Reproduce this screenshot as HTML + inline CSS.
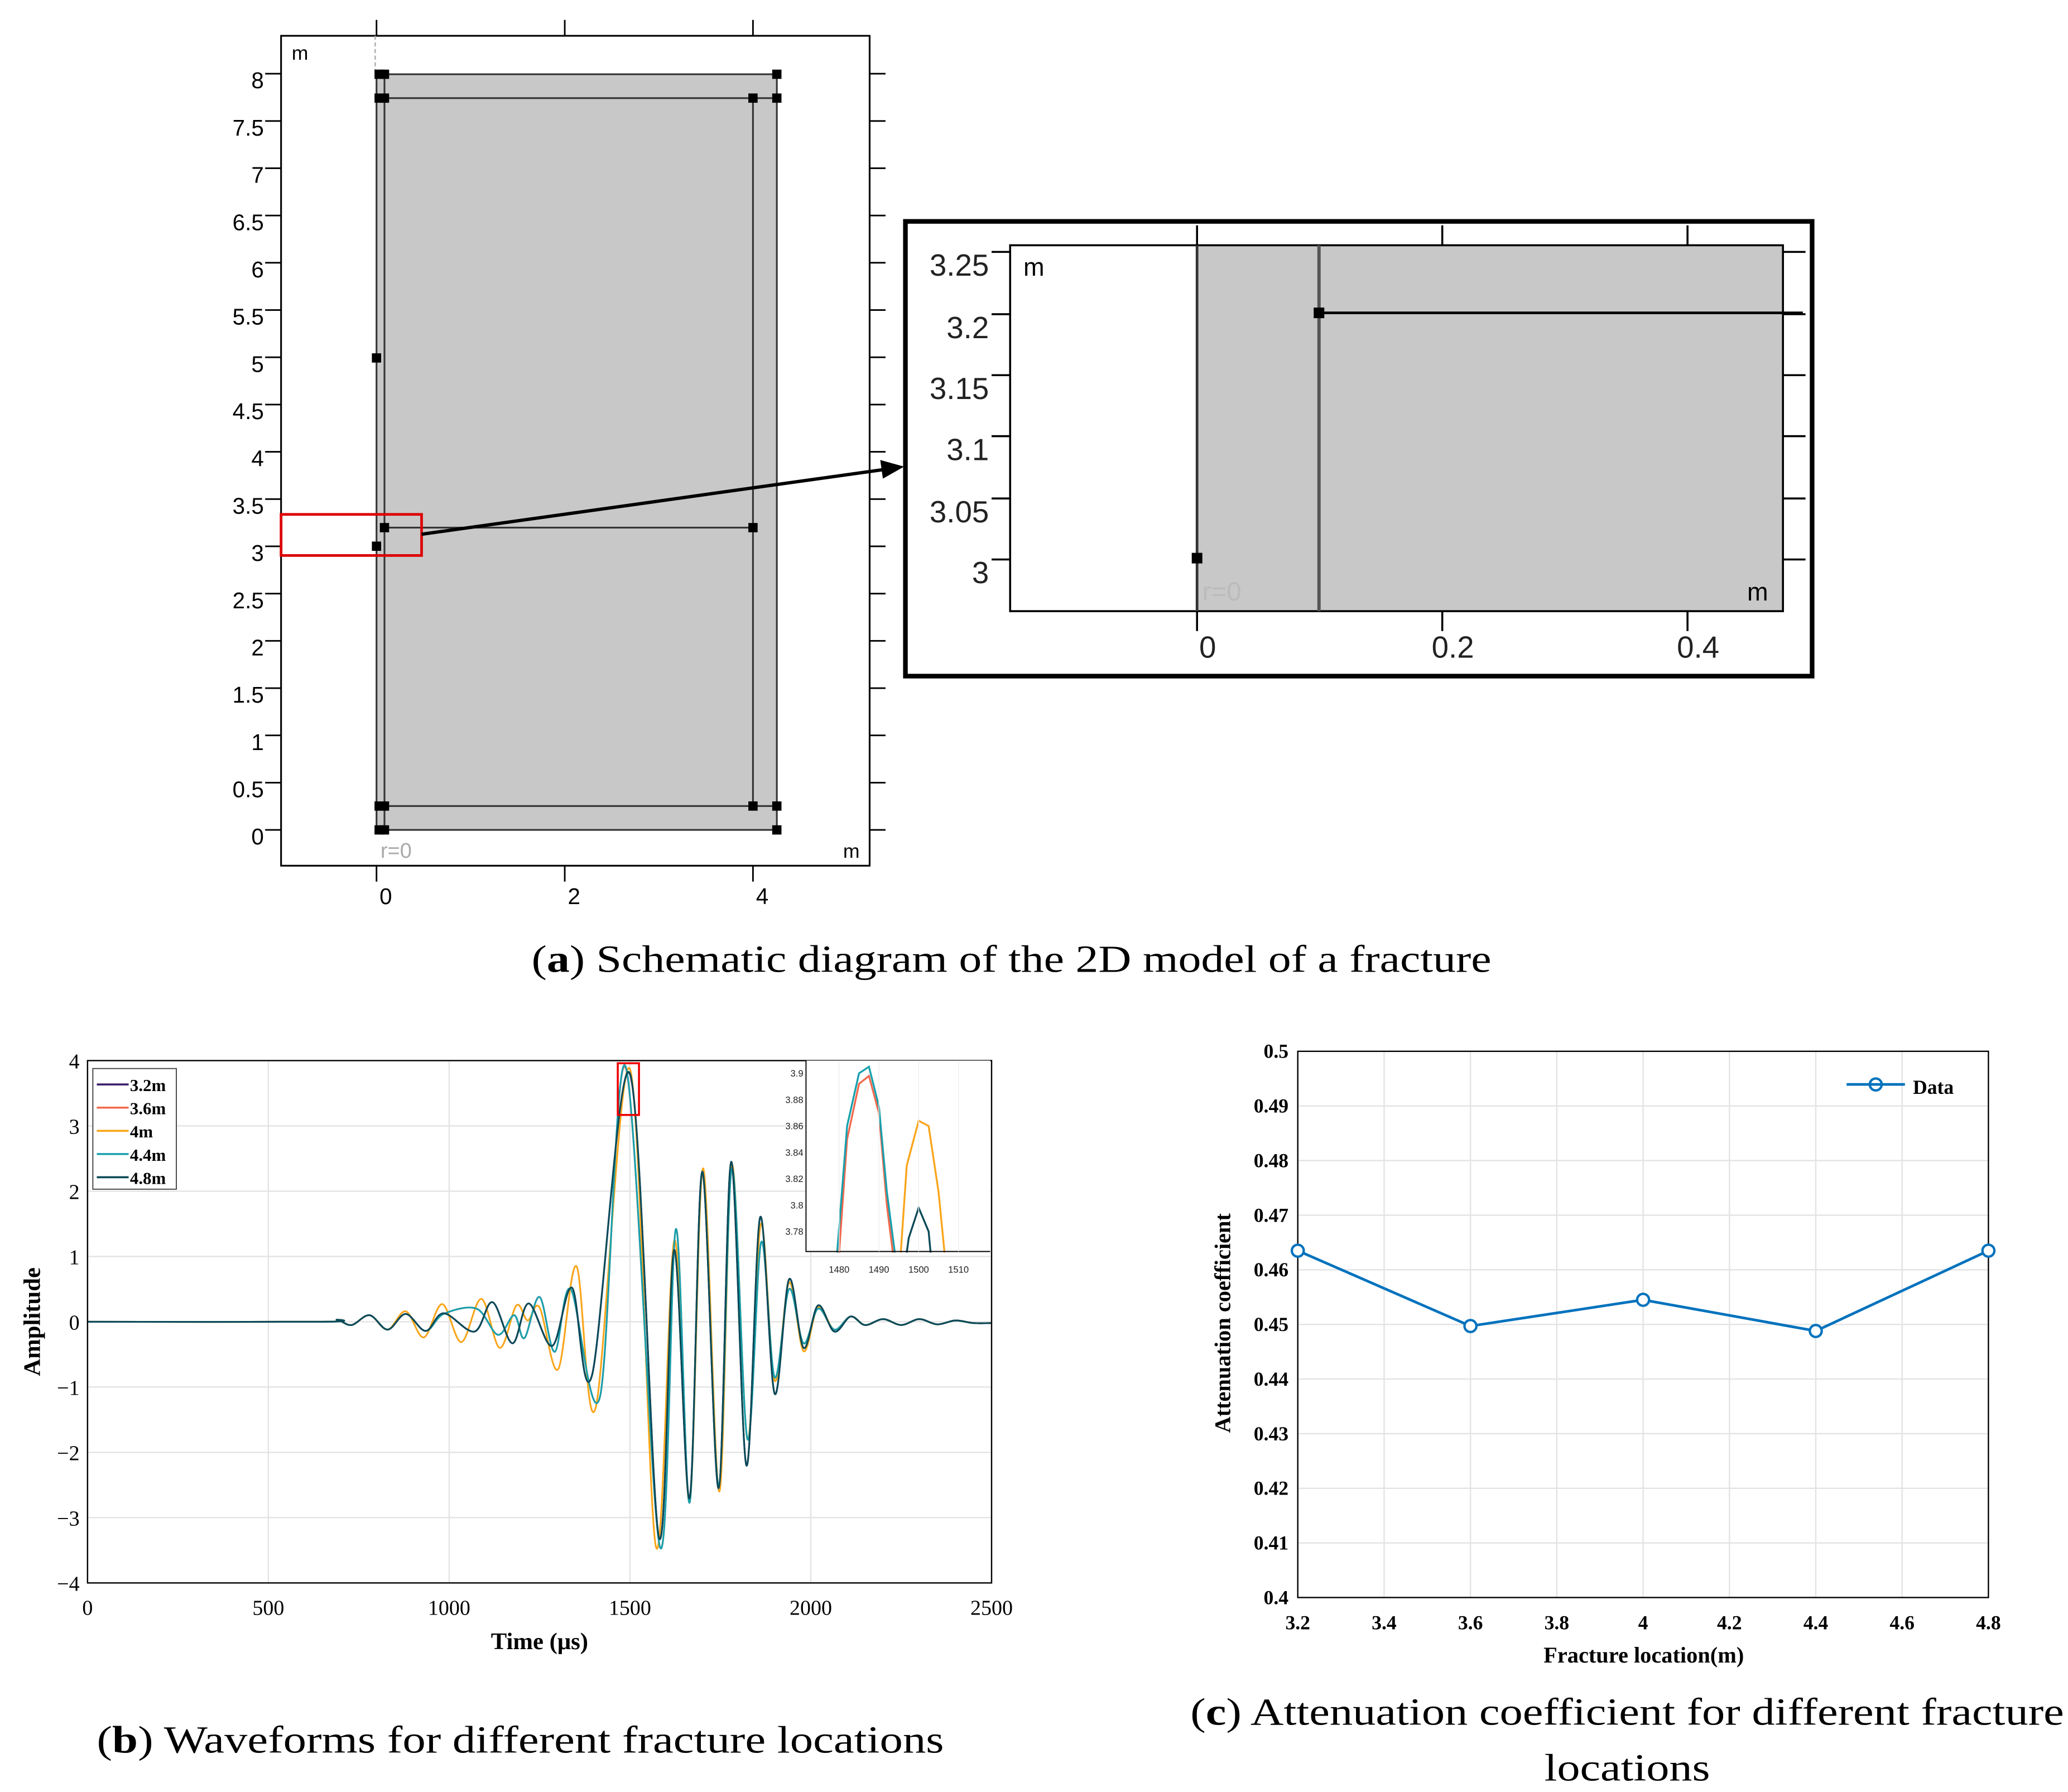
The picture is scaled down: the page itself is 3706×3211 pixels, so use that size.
<!DOCTYPE html>
<html><head><meta charset="utf-8"><style>
html,body{margin:0;padding:0;background:#fff}
svg{display:block}
text{font-family:"Liberation Serif",serif}
.sans, .sans text{font-family:"Liberation Sans",sans-serif}
</style></head><body>
<svg id="fig" xmlns="http://www.w3.org/2000/svg" width="3706" height="3211" viewBox="0 0 1560 1351.7">
<rect width="1560" height="1352" fill="#fff"/>

<!-- Panel a: main model -->
<g>
  <rect x="212" y="27" width="444" height="626" fill="#fff" stroke="#000" stroke-width="1.3"/>
  <rect x="284" y="56" width="302" height="570" fill="#c8c8c8" stroke="#333" stroke-width="1.3"/>
  <line x1="283" y1="27" x2="283" y2="56" stroke="#aaa" stroke-dasharray="3,2"/>
  <g stroke="#333" stroke-width="1.3" fill="none">
    <line x1="290" y1="56" x2="290" y2="626"/>
    <line x1="568" y1="74" x2="568" y2="608"/>
    <line x1="284" y1="74" x2="586" y2="74"/>
    <line x1="284" y1="608" x2="586" y2="608"/>
    <line x1="290" y1="398" x2="568" y2="398"/>
  </g>
  <g fill="#000" id="sq"></g>
  <g id="aticks" stroke="#000" stroke-width="1.2"></g>
  <g id="alabels" font-size="17" class="sans"></g>
  <text x="220" y="45" font-size="15" class="sans">m</text>
  <text x="636" y="647" font-size="15" class="sans">m</text>
  <text x="287" y="647" font-size="16" fill="#aaa" class="sans">r=0</text>
  <rect x="212" y="388" width="106" height="31" fill="none" stroke="#d00" stroke-width="2"/>
  <line x1="318" y1="403" x2="668" y2="354" stroke="#000" stroke-width="2.5"/>
  <polygon points="682,352 664,347 666,361" fill="#000"/>
</g>

<!-- Panel a: zoom inset -->
<g>
  <rect x="683" y="167" width="684" height="343" fill="#fff" stroke="#000" stroke-width="3.5"/>
  <rect x="903" y="185" width="442" height="276" fill="#c8c8c8"/>
  <rect x="762" y="185" width="583" height="276" fill="none" stroke="#000" stroke-width="1.5"/>
  <line x1="903" y1="185" x2="903" y2="461" stroke="#333" stroke-width="2"/>
  <line x1="995" y1="185" x2="995" y2="461" stroke="#555" stroke-width="2.5"/>
  <line x1="995" y1="236" x2="1360" y2="236" stroke="#000" stroke-width="2"/>
  <rect x="991" y="232" width="8" height="8" fill="#000"/>
  <rect x="899" y="417" width="8" height="8" fill="#000"/>
  <g id="ziticks" stroke="#000" stroke-width="1.5"></g>
  <g id="zilabels" font-size="23" class="sans" fill="#222"></g>
  <text x="772" y="208" font-size="19" class="sans">m</text>
  <text x="1318" y="453" font-size="19" class="sans">m</text>
  <text x="907" y="453" font-size="20" fill="#bbb" class="sans">r=0</text>
</g>
<text x="401" y="733" font-size="29" textLength="724" lengthAdjust="spacingAndGlyphs">(<tspan font-weight="bold">a</tspan>) Schematic diagram of the 2D model of a fracture</text>

<!-- Panel b -->
<g>
  <rect x="66" y="800" width="682" height="394" fill="#fff"/>
  <g id="bgrid" stroke="#e3e3e3" stroke-width="1"></g>
  <g id="bseries" fill="none" stroke-width="1.3"></g>
  <rect x="66" y="800" width="682" height="394" fill="none" stroke="#000" stroke-width="1"/>
  <g id="bticks" font-size="16"></g>
  <rect x="466" y="802" width="16" height="39" fill="none" stroke="#e00" stroke-width="1.5"/>
  <g id="blegend"></g>
  <g>
    <rect x="608" y="800" width="139" height="144" fill="#fff"/>
    <g id="iseries" fill="none" stroke-width="1.4"></g>
    <polyline points="608,800 608,944 747,944" fill="none" stroke="#000" stroke-width="0.8"/>
    <g id="iticks" font-size="7" class="sans" fill="#222"></g>
  </g>
  <text x="407" y="1244" font-size="18" font-weight="bold" text-anchor="middle">Time (μs)</text>
  <text transform="translate(30,997) rotate(-90)" font-size="18" font-weight="bold" text-anchor="middle">Amplitude</text>
</g>
<text x="73" y="1322" font-size="29" textLength="639" lengthAdjust="spacingAndGlyphs">(<tspan font-weight="bold">b</tspan>) Waveforms for different fracture locations</text>

<!-- Panel c -->
<g>
  <g id="cgrid" stroke="#e3e3e3" stroke-width="1"></g>
  <rect x="979" y="793" width="521" height="412" fill="none" stroke="#000" stroke-width="1"/>
  <g id="cticks" font-size="15" font-weight="bold"></g>
  <g id="cseries"></g>
  <g>
    <line x1="1393" y1="818" x2="1437" y2="818" stroke="#0072bd" stroke-width="2"/>
    <circle cx="1415" cy="818" r="4.5" fill="none" stroke="#0072bd" stroke-width="1.8"/>
    <text x="1443" y="825" font-size="15" font-weight="bold">Data</text>
  </g>
  <text x="1240" y="1254" font-size="17" font-weight="bold" text-anchor="middle">Fracture location(m)</text>
  <text transform="translate(928,998) rotate(-90)" font-size="17" font-weight="bold" text-anchor="middle">Attenuation coefficient</text>
</g>
<text x="898" y="1301" font-size="29" textLength="659" lengthAdjust="spacingAndGlyphs">(<tspan font-weight="bold">c</tspan>) Attenuation coefficient for different fracture</text>
<text x="1165" y="1343" font-size="29" textLength="125" lengthAdjust="spacingAndGlyphs">locations</text>
</svg>
<script>
// ---- Panel c data ----
const cCategories = [3.2, 3.6, 4.0, 4.4, 4.8];
const cValues = [0.4635, 0.4497, 0.4545, 0.4488, 0.4635];
const cXTicks = ["3.2","3.4","3.6","3.8","4","4.2","4.4","4.6","4.8"];
const cYTicks = ["0.4","0.41","0.42","0.43","0.44","0.45","0.46","0.47","0.48","0.49","0.5"];

// ---- Panel b data ----
const bSeriesNames = ["3.2m","3.6m","4m","4.4m","4.8m"];
const bXTicks = ["0","500","1000","1500","2000","2500"];
const bYTicks = ["4","3","2","1","0","\u22121","\u22122","\u22123","\u22124"];
const t48 = [0,650,690,730,780,830,880,935,985,1070,1120,1175,1220,1285,1340,1395,1500,1580,1622,1665,1700,1745,1780,1822,1860,1900,1940,1980,2020,2065,2110,2150,2200,2250,2300,2350,2400,2450,2500];
const v48 = [0,0,0.03,-0.05,0.1,-0.12,0.12,-0.14,0.13,-0.15,0.3,-0.33,0.28,-0.37,0.52,-0.82,3.8,-3.3,1.1,-2.7,2.3,-2.55,2.45,-2.2,1.6,-1.1,0.65,-0.4,0.25,-0.15,0.08,-0.05,0.04,-0.05,0.04,-0.04,0.02,-0.02,-0.02];
const t44 = [0,650,690,730,780,830,880,935,985,1076,1135,1180,1208,1250,1292,1336,1417,1488,1583,1627,1665,1700,1745,1782,1825,1863,1900,1940,1980,2020,2065,2110,2150,2200,2250,2300,2350,2400,2450,2500];
const v44 = [0,0,0.03,-0.05,0.1,-0.12,0.12,-0.14,0.12,0.2,-0.2,0.1,-0.25,0.38,-0.46,0.5,-1.15,3.91,-3.45,1.42,-2.77,2.3,-2.5,2.35,-1.8,1.22,-0.85,0.5,-0.33,0.2,-0.12,0.08,-0.05,0.04,-0.05,0.04,-0.04,0.02,-0.02,-0.02];
const t40 = [0,650,690,730,780,830,880,930,981,1034,1089,1140,1186,1217,1250,1301,1352,1405,1500,1572,1623,1665,1702,1747,1782,1825,1862,1900,1940,1980,2020,2065,2110,2150,2200,2250,2300,2350,2400,2450,2500];
const v40 = [0,0,0.03,-0.05,0.1,-0.12,0.16,-0.24,0.27,-0.31,0.35,-0.4,0.25,0.02,0.22,-0.73,0.85,-1.32,3.87,-3.45,1.25,-2.75,2.35,-2.6,2.4,-1.8,1.5,-0.9,0.6,-0.45,0.22,-0.12,0.08,-0.05,0.04,-0.05,0.04,-0.04,0.02,-0.02,-0.02];
const v36 = [0,0,0.03,-0.05,0.1,-0.12,0.12,-0.14,0.12,0.2,-0.2,0.1,-0.25,0.38,-0.46,0.5,-1.15,3.89,-3.45,1.42,-2.77,2.3,-2.5,2.35,-1.8,1.22,-0.85,0.5,-0.33,0.2,-0.12,0.08,-0.05,0.04,-0.05,0.04,-0.04,0.02,-0.02,-0.02];
const v32 = [0,0,0.03,-0.05,0.1,-0.12,0.12,-0.14,0.13,-0.15,0.3,-0.33,0.28,-0.37,0.52,-0.82,3.79,-3.3,1.1,-2.7,2.3,-2.55,2.45,-2.2,1.6,-1.1,0.65,-0.4,0.25,-0.15,0.08,-0.05,0.04,-0.05,0.04,-0.04,0.02,-0.02,-0.02];
// inset peak data
const iT44 = [1479.5,1482,1485,1487.5,1490,1492,1494];
const iV44 = [3.764,3.86,3.9,3.905,3.875,3.81,3.764];
const iT36 = [1480,1482,1485,1487.5,1490,1492,1493.5];
const iV36 = [3.764,3.85,3.892,3.898,3.87,3.8,3.764];
const iT40 = [1495.5,1497,1500,1502.5,1505,1506.5];
const iV40 = [3.764,3.83,3.864,3.86,3.81,3.764];
const iT48 = [1497,1497.5,1500,1502.5,1503];
const iV48 = [3.764,3.775,3.798,3.78,3.764];
const iXTicks = ["1480","1490","1500","1510"];
const iYTicks = ["3.78","3.8","3.82","3.84","3.86","3.88","3.9"];

const NS="http://www.w3.org/2000/svg";
function mk(tag, attrs, parent){const e=document.createElementNS(NS,tag);for(const k in attrs)e.setAttribute(k,attrs[k]);parent.appendChild(e);return e;}
function $(id){return document.getElementById(id);}

// ===== Panel a =====
const aY = v => 626 - v*71.3;
const aX = r => 284 + r*71;
const aYTicks = [0,0.5,1,1.5,2,2.5,3,3.5,4,4.5,5,5.5,6,6.5,7,7.5,8];
aYTicks.forEach(v=>{
  const y=aY(v);
  mk('line',{x1:200,y1:y,x2:212,y2:y},$('aticks'));
  mk('line',{x1:656,y1:y,x2:668,y2:y},$('aticks'));
  const t=mk('text',{x:199,y:y+11,'text-anchor':'end'},$('alabels')); t.textContent=String(v);
});
[0,2,4].forEach(r=>{
  const x=aX(r);
  mk('line',{x1:x,y1:15,x2:x,y2:27},$('aticks'));
  mk('line',{x1:x,y1:653,x2:x,y2:665},$('aticks'));
  const t=mk('text',{x:x+7,y:682,'text-anchor':'middle'},$('alabels')); t.textContent=String(r);
});
[[286,56],[290,56],[586,56],[286,74],[290,74],[568,74],[586,74],[290,398],[568,398],[286,608],[290,608],[568,608],[586,608],[286,626],[290,626],[586,626],[284,270],[284,412]].forEach(p=>{
  mk('rect',{x:p[0]-3.5,y:p[1]-3.5,width:7,height:7},$('sq'));
});
// zoom inset ticks
[[3.25,200],[3.2,247],[3.15,293],[3.1,339],[3.05,386],[3,432]].forEach(p=>{
  const t=mk('text',{x:746,y:p[1]+8,'text-anchor':'end'},$('zilabels')); t.textContent=String(p[0]);
  mk('line',{x1:748,y1:p[1]-10,x2:762,y2:p[1]-10},$('ziticks'));
  mk('line',{x1:1345,y1:p[1]-10,x2:1362,y2:p[1]-10},$('ziticks'));
});
[[903,"0"],[1088,"0.2"],[1273,"0.4"]].forEach(p=>{
  mk('line',{x1:p[0],y1:170,x2:p[0],y2:185},$('ziticks'));
  mk('line',{x1:p[0],y1:461,x2:p[0],y2:476},$('ziticks'));
  const t=mk('text',{x:p[0]+8,y:496,'text-anchor':'middle'},$('zilabels')); t.textContent=p[1];
});

// ===== Panel b =====
const bx = t => 66 + t*(682/2500);
const by = v => 997 - v*49.25;
bXTicks.forEach(s=>{
  const v=+s, x=bx(v);
  mk('line',{x1:x,y1:800,x2:x,y2:1194},$('bgrid'));
  const t=mk('text',{x:x,y:1218,'text-anchor':'middle'},$('bticks')); t.textContent=s;
});
bYTicks.forEach(s=>{
  const v=+s.replace('\u2212','-'), y=by(v);
  mk('line',{x1:66,y1:y,x2:748,y2:y},$('bgrid'));
  const t=mk('text',{x:60,y:y+6,'text-anchor':'end'},$('bticks')); t.textContent=s;
});
function smoothPath(ts, vs, fx, fy){
  const P=ts.map((t,i)=>[fx(t),fy(vs[i])]);
  let d='M'+P[0][0].toFixed(2)+','+P[0][1].toFixed(2);
  for(let i=0;i<P.length-1;i++){
    const p0=P[Math.max(0,i-1)],p1=P[i],p2=P[i+1],p3=P[Math.min(P.length-1,i+2)];
    const c1=[p1[0]+(p2[0]-p0[0])/6,p1[1]+(p2[1]-p0[1])/6];
    const c2=[p2[0]-(p3[0]-p1[0])/6,p2[1]-(p3[1]-p1[1])/6];
    d+=`C${c1[0].toFixed(2)},${c1[1].toFixed(2)} ${c2[0].toFixed(2)},${c2[1].toFixed(2)} ${p2[0].toFixed(2)},${p2[1].toFixed(2)}`;
  }
  return d;
}
const bColors=["#3d1f6e","#f2694d","#f9a51a","#17a0ad","#0a4a58"];
const bData=[[t48,v32],[t44,v36],[t40,v40],[t44,v44],[t48,v48]];
bData.forEach((s,i)=>{
  const p=mk('path',{d:smoothPath(s[0],s[1],bx,by),stroke:bColors[i]},$('bseries'));
  
  
});
// legend
mk('rect',{x:70,y:806,width:63,height:91,fill:'#fff',stroke:'#444','stroke-width':0.8},$('blegend'));
bSeriesNames.forEach((n,i)=>{
  const y=818+i*17.5;
  const g=mk('g',{},$('blegend'));
  
  
  mk('line',{x1:73,y1:y,x2:97,y2:y,stroke:bColors[i],'stroke-width':1.5},g);
  const t=mk('text',{x:98,y:y+5,'font-size':13,'font-weight':'bold'},g); t.textContent=n;
});
// inset
const ix = t => 633 + (t-1480)*3;
const iy = v => 809.6 + (3.9-v)*994;
iXTicks.forEach(s=>{
  const x=ix(+s);
  mk('line',{x1:x,y1:800,x2:x,y2:944,stroke:'#eee','stroke-width':0.6},$('iticks'));
  const t=mk('text',{x:x,y:960,'text-anchor':'middle'},$('iticks')); t.textContent=s;
});
iYTicks.forEach(s=>{
  const y=iy(+s);
  const t=mk('text',{x:606,y:y+2.5,'text-anchor':'end'},$('iticks')); t.textContent=s;
});
[[iT36,iV36,1],[iT44,iV44,3],[iT40,iV40,2],[iT48,iV48,4]].forEach(s=>{
  const pts=s[0].map((t,i)=>ix(t).toFixed(2)+','+iy(s[1][i]).toFixed(2)).join(' ');
  const p=mk('polyline',{points:pts,stroke:bColors[s[2]]},$('iseries'));
  
  
});

// ===== Panel c =====
const cx = v => 979 + (v-3.2)*(521/1.6);
const cy = v => 1205 - (v-0.4)*4120;
cXTicks.forEach(s=>{
  const x=cx(+s);
  mk('line',{x1:x,y1:793,x2:x,y2:1205},$('cgrid'));
  const t=mk('text',{x:x,y:1229,'text-anchor':'middle'},$('cticks')); t.textContent=s;
});
cYTicks.forEach(s=>{
  const y=cy(+s);
  mk('line',{x1:979,y1:y,x2:1500,y2:y},$('cgrid'));
  const t=mk('text',{x:972,y:y+5,'text-anchor':'end'},$('cticks')); t.textContent=s;
});
const cpts=cCategories.map((c,i)=>cx(c).toFixed(2)+','+cy(cValues[i]).toFixed(2)).join(' ');
const cl=mk('polyline',{points:cpts,fill:'none',stroke:'#0072bd','stroke-width':2},$('cseries'));


cCategories.forEach((c,i)=>{
  const m=mk('circle',{cx:cx(c),cy:cy(cValues[i]),r:4.5,fill:'#fff',stroke:'#0072bd','stroke-width':1.8},$('cseries'));
  
  
});
</script>
</body></html>
